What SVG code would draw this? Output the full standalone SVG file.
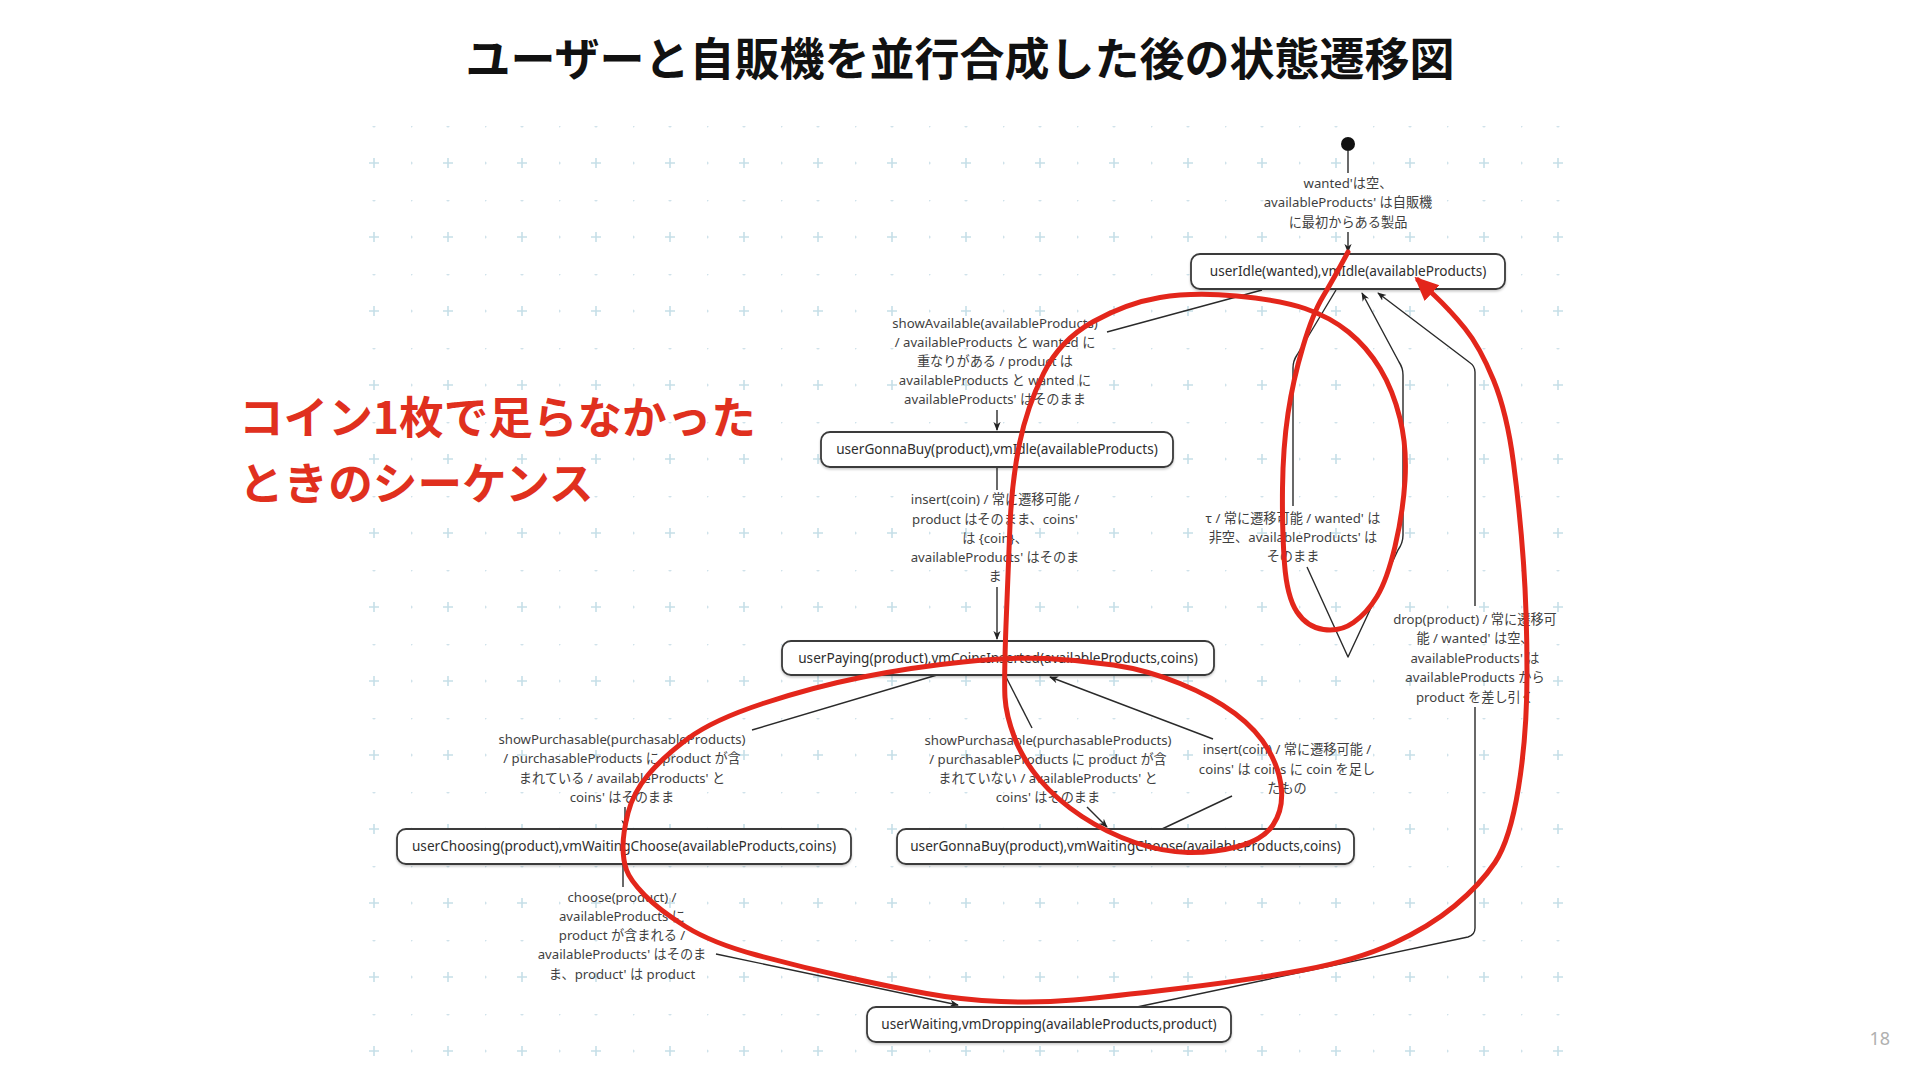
<svg xmlns="http://www.w3.org/2000/svg" width="1920" height="1080" viewBox="0 0 1920 1080">
<style>
.node rect{fill:#fff;stroke:#3a3a3a;stroke-width:1.8;filter:url(#sh)}
.node text{font-family:"Noto Sans","Noto Sans CJK JP",sans-serif;font-size:13.6px;fill:#2e2e2e;text-anchor:middle}
.lbl{font-family:"Noto Sans","Noto Sans CJK JP",sans-serif;font-size:13.2px;fill:#3f3f3f;text-anchor:middle}
.edge{fill:none;stroke:#2a2a2a;stroke-width:1.4;stroke-linejoin:round}
.arr{marker-end:url(#ah)}
.title{font-family:"Noto Sans CJK JP",sans-serif;font-weight:700;font-size:45px;fill:#111;text-anchor:middle}
.note{font-family:"Noto Sans CJK JP",sans-serif;font-weight:700;font-size:44.6px;fill:#e0301e}
.red{fill:none;stroke:#e3261b;stroke-width:5;stroke-linecap:round;stroke-linejoin:round}
</style>
<defs>
<pattern id="grid" patternUnits="userSpaceOnUse" x="337" y="126" width="74" height="74">
<circle cx="0" cy="0" r="1.6" fill="#cfe2ea"/>
<circle cx="37" cy="0" r="1.6" fill="#cfe2ea"/>
<circle cx="0" cy="37" r="1.6" fill="#cfe2ea"/>
<path d="M32,37 H42 M37,32 V42" stroke="#c6dfe8" stroke-width="1.6"/>
</pattern>
<filter id="sh" x="-5%" y="-20%" width="110%" height="150%">
<feDropShadow dx="0" dy="1.5" stdDeviation="1" flood-color="#000" flood-opacity="0.22"/>
</filter>
<marker id="ah" viewBox="0 0 10 10" refX="9" refY="5" markerWidth="9" markerHeight="9" markerUnits="userSpaceOnUse" orient="auto">
<path d="M0,1 L10,5 L0,9 L3,5 z" fill="#222"/>
</marker>
<marker id="rah" viewBox="0 0 10 10" refX="8" refY="5" markerWidth="24" markerHeight="24" markerUnits="userSpaceOnUse" orient="auto">
<path d="M0,0.5 L10,5 L0,9.5 z" fill="#e3261b"/>
</marker>
</defs>
<rect width="1920" height="1080" fill="#fff"/>
<rect x="360" y="115" width="1212" height="950" fill="url(#grid)"/>

<text class="title" x="960" y="76">ユーザーと自販機を並行合成した後の状態遷移図</text>
<g id="note">
<text class="note" x="239" y="434">コイン1枚で足らなかった</text>
<text class="note" x="239" y="500">ときのシーケンス</text>
</g>
<text x="1890" y="1045" font-family="Noto Sans, sans-serif" font-size="18" fill="#b0b0b0" text-anchor="end">18</text>

<g id="connectors">
<circle cx="1348" cy="144" r="7" fill="#111"/>
<path class="edge" d="M1348,150 V173"/>
<path class="edge arr" d="M1348,232 V252"/>
<text class="lbl" x="1348" y="187.5">wanted'は空、</text>
<text class="lbl" x="1348" y="206.5">availableProducts' は自販機</text>
<text class="lbl" x="1348" y="226.5">に最初からある製品</text>

<path class="edge" d="M1262,290 L1107,332"/>
<path class="edge arr" d="M997,410 V430"/>
<text class="lbl" x="995" y="327.5">showAvailable(availableProducts)</text>
<text class="lbl" x="995" y="346.5">/ availableProducts と wanted に</text>
<text class="lbl" x="995" y="365.5">重なりがある / product は</text>
<text class="lbl" x="995" y="384.5">availableProducts と wanted に</text>
<text class="lbl" x="995" y="403.5">availableProducts' はそのまま</text>

<path class="edge" d="M997,467 V490"/>
<path class="edge arr" d="M997,587 V639"/>
<text class="lbl" x="995" y="503.8">insert(coin) / 常に遷移可能 /</text>
<text class="lbl" x="995" y="523.5">product はそのまま、coins'</text>
<text class="lbl" x="995" y="542.8">は {coin}、</text>
<text class="lbl" x="995" y="562.2">availableProducts' はそのま</text>
<text class="lbl" x="995" y="581.2">ま</text>

<path class="edge" d="M937,675 L752,730"/>
<path class="edge arr" d="M625,807 V828"/>
<text class="lbl" x="622" y="743.5">showPurchasable(purchasableProducts)</text>
<text class="lbl" x="622" y="763">/ purchasableProducts に product が含</text>
<text class="lbl" x="622" y="782.5">まれている / availableProducts' と</text>
<text class="lbl" x="622" y="802">coins' はそのまま</text>

<path class="edge" d="M1005,675 L1032,728"/>
<path class="edge arr" d="M1087,807 L1107,827"/>
<text class="lbl" x="1048" y="744.5">showPurchasable(purchasableProducts)</text>
<text class="lbl" x="1048" y="763.5">/ purchasableProducts に product が含</text>
<text class="lbl" x="1048" y="783">まれていない / availableProducts' と</text>
<text class="lbl" x="1048" y="802">coins' はそのまま</text>

<path class="edge" d="M1162,829 L1232,796"/>
<path class="edge arr" d="M1213,739 L1050,677"/>
<text class="lbl" x="1287" y="754">insert(coin) / 常に遷移可能 /</text>
<text class="lbl" x="1287" y="773.5">coins' は coins に coin を足し</text>
<text class="lbl" x="1287" y="792.5">たもの</text>

<path class="edge" d="M623,864 V887"/>
<path class="edge arr" d="M716,954 L958,1005"/>
<text class="lbl" x="622" y="902">choose(product) /</text>
<text class="lbl" x="622" y="921">availableProducts に</text>
<text class="lbl" x="622" y="940">product が含まれる /</text>
<text class="lbl" x="622" y="959">availableProducts' はそのま</text>
<text class="lbl" x="622" y="978.5">ま、product' は product</text>

<path class="edge" d="M1137,1007 L1468,937 Q1475,935 1475,928 V707"/>
<path class="edge arr" d="M1475,606 V372 Q1475,366 1469,362 L1378,293"/>
<text class="lbl" x="1475" y="623.5">drop(product) / 常に遷移可</text>
<text class="lbl" x="1475" y="643">能 / wanted' は空、</text>
<text class="lbl" x="1475" y="662.5">availableProducts' は</text>
<text class="lbl" x="1475" y="682">availableProducts から</text>
<text class="lbl" x="1475" y="701.5">product を差し引く</text>

<path class="edge" d="M1336,290 L1297,355 Q1293,361 1293,368 V506"/>
<path class="edge arr" d="M1307,567 L1348,657 L1398,550 Q1403,543 1403,535 V375 Q1403,368 1399,362 L1362,293"/>
<text class="lbl" x="1293" y="523">τ / 常に遷移可能 / wanted' は</text>
<text class="lbl" x="1293" y="542">非空、availableProducts' は</text>
<text class="lbl" x="1293" y="561">そのまま</text>
</g>

<g id="userIdle" class="node"><rect x="1191" y="254" width="314" height="35" rx="9"/><text x="1348" y="276">userIdle(wanted),vmIdle(availableProducts)</text></g>
<g id="userGonnaBuy_vmIdle" class="node"><rect x="821" y="432" width="352" height="35" rx="9"/><text x="997" y="454">userGonnaBuy(product),vmIdle(availableProducts)</text></g>
<g id="userPaying" class="node"><rect x="782" y="641" width="432" height="34" rx="9"/><text x="998" y="662.5">userPaying(product),vmCoinsInserted(availableProducts,coins)</text></g>
<g id="userChoosing" class="node"><rect x="397" y="829" width="454" height="35" rx="9"/><text x="624" y="851">userChoosing(product),vmWaitingChoose(availableProducts,coins)</text></g>
<g id="userGonnaBuy_vmWaitingChoose" class="node"><rect x="897" y="829" width="457" height="35" rx="9"/><text x="1125.5" y="851">userGonnaBuy(product),vmWaitingChoose(availableProducts,coins)</text></g>
<g id="userWaiting" class="node"><rect x="867" y="1007" width="364" height="35" rx="9"/><text x="1049" y="1029">userWaiting,vmDropping(availableProducts,product)</text></g>

<g id="annotation">
<path class="red" marker-end="url(#rah)" d="M1348,252 Q1333,280 1323,296.5 Q1313,313 1303,346.5 Q1293,380 1288,413.5 Q1283,447 1282.5,488.5 Q1282,530 1284.5,563.5 Q1287,597 1297,612 Q1307,627 1323.5,629.5 Q1340,632 1353.5,622.5 Q1367,613 1377,596.5 Q1387,580 1395,546.5 Q1403,513 1405,480 Q1407,447 1400,418.5 Q1393,390 1380,368.5 Q1367,347 1348.5,332 Q1330,317 1305,308.5 Q1280,300 1236.5,296 Q1193,292 1160,297.5 Q1127,303 1093.5,321.5 Q1060,340 1043.5,373.5 Q1027,407 1019.5,443.5 Q1012,480 1010,525 Q1008,570 1006,625 Q1004,680 1005,697.5 Q1006,715 1014.5,737.5 Q1023,760 1040,780 Q1057,800 1082,816.5 Q1107,833 1135,842.5 Q1163,852 1188,852.5 Q1213,853 1238,846.5 Q1263,840 1273,825 Q1283,810 1281.5,790 Q1280,770 1268.5,750 Q1257,730 1235,713.5 Q1213,697 1180,683.5 Q1147,670 1113.5,665 Q1080,660 1046.5,658.5 Q1013,657 963,662 Q913,667 863,677 Q813,687 763,703.5 Q713,720 688,738.5 Q663,757 648,775 Q633,793 628,813 Q623,833 623,846.5 Q623,860 626.5,870 Q630,880 644.5,895 Q659,910 685.5,926.5 Q712,943 756.5,955 Q801,967 846,977 Q891,987 926.5,993.5 Q962,1000 1001,1001.5 Q1040,1003 1073.5,1000 Q1107,997 1178.5,988.5 Q1250,980 1303.5,970 Q1357,960 1393,943.5 Q1429,927 1454.5,906 Q1480,885 1495,862.5 Q1510,840 1518.5,787.5 Q1527,735 1527,674 Q1527,613 1523.5,563 Q1520,513 1513.5,463 Q1507,413 1493.5,380 Q1480,347 1465,328.5 Q1450,310 1434,295 L1418,280"/>
</g>
</svg>
